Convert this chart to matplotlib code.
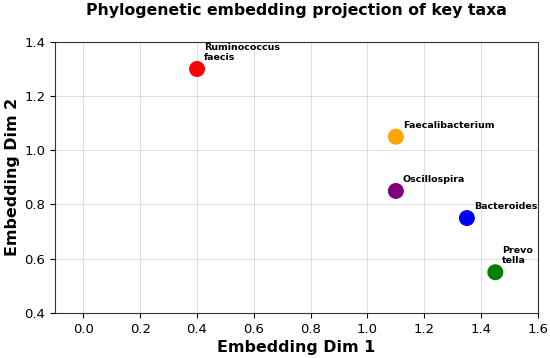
import matplotlib.pyplot as plt

taxa = ['Ruminococcus\nfaecis', 'Faecalibacterium', 'Oscillospira', 'Bacteroides', 'Prevo\ntella']
dim1 = [0.4, 1.1, 1.1, 1.35, 1.45]
dim2 = [1.3, 1.05, 0.85, 0.75, 0.55]
colors = ['red', 'orange', 'purple', 'blue', 'green']

fig, ax = plt.subplots(figsize=(5.5, 3.58), dpi=100)
fig.subplots_adjust(left=0.1, right=0.978, top=0.883, bottom=0.126)

ax.scatter(dim1, dim2, c=colors, s=110, zorder=3)
for name, x, y in zip(taxa, dim1, dim2):
    ax.annotate(name, (x, y), xytext=(5, 5), textcoords='offset points',
                fontsize=6.8, fontweight='bold', ha='left', va='bottom')

ax.set_xlim(-0.1, 1.6)
ax.set_ylim(0.4, 1.4)
ax.grid(True, color='#dddddd', linewidth=0.7)
ax.set_axisbelow(True)
for sp in ax.spines.values():
    sp.set_color('#333333')
ax.tick_params(labelsize=9.5)
ax.set_xlabel('Embedding Dim 1', fontsize=11.4, fontweight='bold', labelpad=3)
ax.set_ylabel('Embedding Dim 2', fontsize=11.4, fontweight='bold', labelpad=3)
ax.set_title('Phylogenetic embedding projection of key taxa', fontsize=11.3, fontweight='bold', pad=19.5)

plt.savefig('out.png', dpi=100)
